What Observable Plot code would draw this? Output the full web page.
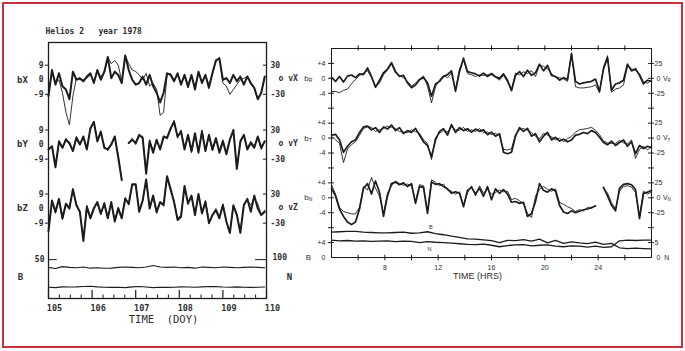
<!DOCTYPE html>
<html><head><meta charset="utf-8">
<script src="https://cdn.jsdelivr.net/npm/d3@7"></script>
<script src="https://cdn.jsdelivr.net/npm/@observablehq/plot@0.6"></script>
<style>
html,body{margin:0;padding:0;background:#fff;}
#wrap{position:relative;width:685px;height:351px;overflow:hidden;background:#fff;}
#wrap svg{position:absolute;overflow:visible !important;background:transparent;}
#border{position:absolute;left:2px;top:2px;width:681px;height:346px;box-sizing:border-box;border:2px solid #c8323e;}
</style></head><body><div id="wrap"><div id="border"></div></div>
<script>
// ================= LEFT PANEL DATA (Helios 2, 1978, DOY) =================
const doyStart = 105, doyStep = 0.08;           // sample grid of the b/v traces
const bX = [-10,6,-3,4,-4,-6,-12,5,0,1,-1,2,4,-2,6,0,5,14,1,5,3,-2,15,6,0,-3,-2,2,-3,3,-4,-8,-14,-8,4,3,-1,4,-3,3,-4,3,-6,5,-2,3,-5,4,12,13,0,1,-2,3,-1,2,-3,2,-2,-5,-12,-8,2];
const vX = [-27,17,-7,0,-27,-67,-93,-33,3,0,0,3,10,-3,17,7,13,47,33,40,30,-3,50,33,20,17,10,0,13,-13,-7,-20,-73,-67,10,13,0,10,-7,7,-17,7,-13,13,-3,7,-10,13,37,47,-7,-13,-30,-20,-10,0,3,7,-10,-17,-40,-27,7];
const bY = [-3,-1,-14,2,-2,3,1,-4,4,0,5,-3,10,14,2,8,-2,-3,0,5,-8,-22,null,1,3,1,6,4,-18,2,-5,3,-3,5,4,10,14,5,8,-3,6,-4,7,-5,8,-4,6,-3,4,-5,2,-6,3,9,-15,2,6,-3,1,-2,5,-2,2];
const vY = [-10,-3,-40,3,-7,13,0,-13,17,3,13,-10,30,47,10,23,-3,-13,3,13,-23,-70,null,3,13,0,17,17,-57,10,-13,7,-10,13,17,30,50,13,30,-7,17,-17,20,-13,30,-10,17,-13,10,-13,10,-17,13,27,-47,3,20,-7,7,-3,13,-10,7];
const bZ = [-14,5,-2,6,-6,3,0,12,2,-2,-20,1,-6,0,4,-3,3,-6,4,-8,0,-6,6,3,15,15,-2,5,18,0,8,-2,4,2,20,12,4,-7,-5,14,3,8,-4,9,-3,4,-9,-4,-1,-6,2,-8,-15,2,-4,-15,2,6,-2,8,0,-4,-2];
const vZ = [-40,13,-10,17,-23,10,3,37,10,-10,-60,7,-17,3,10,-13,13,-17,10,-23,3,-17,23,7,50,47,-3,17,57,3,23,-10,13,10,63,37,17,-20,-13,43,13,23,-10,27,-7,17,-27,-13,0,-17,10,-27,-47,7,-10,-47,10,17,7,20,10,-13,-3];
const bnStepL = 0.16;
const B_left = [40,38.5,41,40,39.5,40.5,39,39.5,38.8,39,40,40.5,40,39.5,40.5,42.5,40.5,40,40.5,39.5,40,39,40.5,40,39.5,40.5,40,39.5,40,40.5,40,39.5];
const N_left = [29,28,30,29.5,30,31,31.5,30,29,28.5,29,28,30,31,29.5,28,29,28.5,29,30,29.5,29,30,31,30.5,29.5,29,30,29,28.5,29,29.5];
const doyTicks = [105,106,107,108,109,110];
const leftBTicks = [9,0,-9], leftBTickText = ["9","0","-9"];
const leftVTicks = [30,-30], leftVTickText = ["30","-30"];

// ================= RIGHT PANEL DATA (TIME, HRS) =================
const hrStart = 4, hrStep = 0.3;
const bR = [0.3,-0.8,0.5,-1.0,0.6,0.9,0.2,1.2,1.0,2.8,0.5,-2.4,-0.5,1.5,2.5,4.2,1.8,0.5,0.8,-1.2,-2.5,-1.8,-0.4,0.2,-1.2,-4.8,-1.5,-0.8,0.5,1.0,2.0,-3.5,1.8,5.4,1.8,1.5,1.2,0.6,1.4,0.5,1.3,0.4,0.0,1.2,-0.5,-3.3,0.8,1.8,0.5,2.2,0.8,1.5,3.8,2.0,3.5,0.8,0.5,-0.5,0.2,-0.3,6.5,-0.8,-1.5,-1.2,-1.0,-0.8,-0.2,-3.5,2.5,5.5,-3.2,-1.5,-1.2,-0.5,3.8,2.0,2.6,0.8,-1.5,-0.5,-0.8];
const vR = [-22,-22,-24,-20,-18,-9,-2,5,9,13,1,-13,-8,6,14,24,9,5,1,-5,-13,-8,-1,4,-13,-41,-14,-3,5,1,9,-19,16,31,8,6,3,6,5,6,6,2,-3,5,-6,-18,9,6,11,8,13,3,22,20,16,8,2,1,-1,-5,43,-14,-16,-16,-15,-14,-11,-24,19,38,-23,-18,-16,-11,21,16,13,8,-6,-8,-3];
const bT = [0.8,1.0,-0.5,-3.8,-2.2,-1.0,-0.5,1.5,3.0,3.2,2.2,2.8,1.5,3.0,2.4,3.5,2.0,2.8,1.2,2.0,1.5,2.6,0.8,-1.0,-2.0,-5.0,-0.5,1.8,2.5,0.8,3.6,1.5,2.8,2.0,2.5,1.6,2.4,1.8,2.2,0.9,1.6,0.5,1.2,-3.8,-4.2,-3.8,0.5,2.8,1.8,2.6,0.5,1.2,-1.0,0.5,1.5,-0.5,0.2,-0.8,-0.3,-1.0,-0.5,0.8,1.0,1.5,1.2,2.0,1.5,0.2,-1.2,-1.8,-0.8,-2.0,-1.2,-0.5,-2.2,-1.0,-4.2,-2.0,-2.8,-2.2,-2.6];
const vT = [3,-3,-9,-41,-18,-11,-6,5,16,19,18,11,14,16,20,18,16,11,10,9,14,11,8,-3,-9,-36,1,8,13,10,19,14,13,18,11,14,11,16,9,10,6,8,4,-19,-20,-18,6,14,16,13,9,3,-1,8,5,2,-3,0,-6,-1,3,10,14,15,16,18,13,6,-5,-8,-9,-9,-4,-8,-10,-3,-34,-19,-14,-20,-13];
const bN = [2.5,0.5,-3.0,-5.0,-6.5,-7.2,-6.5,-3.0,2.5,3.8,1.0,4.5,1.5,-5.0,0.5,3.8,4.2,3.5,4.0,3.0,3.8,-1.5,3.0,2.8,-4.2,4.2,3.6,3.8,3.0,2.4,1.2,1.6,1.2,-2.4,2.0,2.8,1.0,2.6,0.4,3.0,-0.5,2.4,1.2,2.2,1.0,-1.2,-1.0,-1.5,-1.2,-5.0,-4.2,-1.0,3.8,2.0,1.5,2.4,1.8,-2.0,-3.8,-4.2,-3.5,-4.0,-3.6,-3.2,-3.0,-2.6,-2.2,null,2.8,0.5,-2.0,-3.5,2.5,3.6,3.8,3.5,2.2,-5.6,1.2,1.5,2.0];
const vN = [22,6,-16,-23,-25,-27,-27,-16,19,13,34,16,3,-26,8,20,28,24,21,23,20,-6,22,20,-23,30,26,20,23,13,11,6,10,-13,8,20,3,20,8,14,6,9,13,10,11,-3,-1,-5,-10,-26,-33,3,14,19,14,11,15,-8,-11,-15,-18,-23,-20,-22,-16,-18,-13,null,16,8,-8,-19,11,19,20,18,9,-30,11,6,10];
const bnStepR = 0.6;
const B_right = [6.8,6.9,7.0,7.0,6.8,6.7,6.6,6.6,6.7,6.8,6.5,6.6,6.9,6.4,6.1,5.7,5.4,5.0,4.9,4.7,4.5,4.0,4.6,4.5,4.8,4.4,4.9,3.9,4.6,3.8,4.2,3.9,3.7,4.1,3.5,3.8,2.6,2.4,2.5,2.4,2.3];
const N_right = [5.8,5.6,5.7,5.5,5.6,5.4,5.5,5.6,5.3,5.5,5.4,5.0,5.3,5.1,5.0,4.8,4.6,4.4,4.3,4.5,4.1,3.6,4.0,4.2,4.3,3.9,4.1,4.2,3.8,3.6,3.9,3.8,3.5,3.8,3.4,3.6,5.6,5.8,5.7,5.8,5.8];
const hrLabelTicks = [8,12,16,20,24];
const rightBTicks = [4,0,-4], rightBTickText = ["+4","0","-4"];
const rightVTicks = [25,-25], rightVTickText = ["25","-25"];

// ================= helpers =================
const ink = "#1c1c1c", txt = "#2e2e2e";
const mono = "'DejaVu Sans Mono','Liberation Mono',monospace";
const sans = "'Liberation Sans',Arial,sans-serif";
const series = (vals, t0, dt, off, k) => vals.map((v, i) => ({t: t0 + dt * i, y: v == null ? NaN : off + v * k}));
const wrap = document.getElementById("wrap");
function place(svg, left, top) { svg.style.left = left + "px"; svg.style.top = top + "px"; wrap.appendChild(svg); }

// ================= LEFT PLOT =================
{
  const kV = 9 / 30, kB = 24 / 50, kN = 24 / 100;
  const panels = [
    {name: "bX", b: bX, v: vX, off: 135, vlab: "o vX"},
    {name: "bY", b: bY, v: vY, off: 95, vlab: "o vY"},
    {name: "bZ", b: bZ, v: vZ, off: 55.5, vlab: "o vZ"}
  ];
  const x0 = doyTicks[0], x1 = doyTicks[doyTicks.length - 1];
  const lTicks = panels.flatMap(p => leftBTicks.map((v, j) => ({y: p.off + v, text: leftBTickText[j]})));
  const rTicks = panels.flatMap(p => leftVTicks.map((v, j) => ({y: p.off + v * kV, text: leftVTickText[j]})));
  const names = panels.map(p => ({y: p.off, text: p.name}));
  const vnames = panels.map(p => ({y: p.off, text: p.vlab}));
  const minor = d3.range(x0, x1, 0.25).filter(d => d % 1 !== 0);
  const svg = Plot.plot({
    width: 300, height: 340,
    marginLeft: 48, marginRight: 34, marginTop: 42, marginBottom: 42,
    x: {domain: [x0, x1], axis: null},
    y: {domain: [0, 158], axis: null},
    marks: [
      Plot.frame({stroke: ink, strokeWidth: 1.3}),
      ...panels.flatMap(p => [
        Plot.line(series(p.v, doyStart, doyStep, p.off, kV), {x: "t", y: "y", stroke: ink, strokeWidth: 0.9}),
        Plot.line(series(p.b, doyStart, doyStep, p.off, 1), {x: "t", y: "y", stroke: ink, strokeWidth: 2})
      ]),
      Plot.line(series(B_left, doyStart, bnStepL, 0, kB), {x: "t", y: "y", stroke: ink, strokeWidth: 1.1}),
      Plot.line(series(N_left, doyStart, bnStepL, 0, kN), {x: "t", y: "y", stroke: ink, strokeWidth: 1.1}),
      // axis ticks
      Plot.ruleX(doyTicks, {x: d => d, y1: 0, y2: 5, stroke: ink, strokeWidth: 1.2}),
      Plot.ruleX(minor, {x: d => d, y1: 0, y2: 2.2, stroke: ink, strokeWidth: 1}),
      Plot.ruleY(lTicks.filter(d => d.text !== "0"), {y: "y", x1: x0 - 0.07, x2: x0, stroke: ink}),
      Plot.ruleY(rTicks, {y: "y", x1: x1 - 0.07, x2: x1, stroke: ink}),
      Plot.ruleY([50 * kB], {y: d => d, x1: x0, x2: x0 + 0.2, stroke: ink}),
      Plot.ruleY([100 * kN], {y: d => d, x1: x1 - 0.25, x2: x1, stroke: ink}),
      // labels
      Plot.text(lTicks, {x: () => x0, y: "y", text: "text", textAnchor: "end", dx: -5, fontSize: 8, fontFamily: mono, fontWeight: "bold", fill: txt}),
      Plot.text(names, {x: () => x0, y: "y", text: "text", textAnchor: "middle", dx: -26, fontSize: 9, fontFamily: mono, fontWeight: "bold", fill: txt}),
      Plot.text(rTicks, {x: () => x1, y: "y", text: "text", textAnchor: "start", dx: 4, fontSize: 8, fontFamily: mono, fontWeight: "bold", fill: txt}),
      Plot.text(vnames, {x: () => x1, y: "y", text: "text", textAnchor: "start", dx: 12, dy: -1, fontSize: 8, fontFamily: mono, fontWeight: "bold", fill: txt}),
      Plot.text(["50"], {x: () => x0, y: () => 50 * kB, textAnchor: "end", dx: -4, fontSize: 8, fontFamily: mono, fontWeight: "bold", fill: txt}),
      Plot.text(["100"], {x: () => x1, y: () => 100 * kN, textAnchor: "start", dx: 6, dy: -2, fontSize: 8, fontFamily: mono, fontWeight: "bold", fill: txt}),
      Plot.text(["B"], {x: () => x0, y: () => 13, textAnchor: "middle", dx: -28, fontSize: 9, fontFamily: mono, fontWeight: "bold", fill: txt}),
      Plot.text(["N"], {x: () => x1, y: () => 13, textAnchor: "middle", dx: 23, fontSize: 9, fontFamily: mono, fontWeight: "bold", fill: txt}),
      Plot.text(doyTicks, {x: d => d, y: () => 0, text: d => String(d), dy: 10, dx: 6, fontSize: 8.5, fontFamily: mono, fontWeight: "bold", fill: txt}),
      Plot.text(["TIME\u00a0\u00a0(DOY)"], {frameAnchor: "bottom", dx: 6, dy: 24, fontSize: 10.5, fontFamily: mono, fill: txt}),
      Plot.text(["Helios 2\u00a0\u00a0\u00a0year 1978"], {frameAnchor: "top-left", textAnchor: "start", dx: -3, dy: -14, fontSize: 8, fontFamily: mono, fontWeight: "bold", fill: txt})
    ]
  });
  place(svg, 0, 0);
}

// ================= RIGHT PLOT =================
{
  const kV = 4 / 25, kN = 4 / 5;
  const panels = [
    {sub: "R", b: bR, v: vR, off: 48},
    {sub: "T", b: bT, v: vT, off: 32},
    {sub: "N", b: bN, v: vN, off: 16}
  ];
  const x0 = 4, x1 = 28, top = 56;
  const lTicks = panels.flatMap(p => rightBTicks.map((v, j) => ({y: p.off + v, text: rightBTickText[j]})))
    .concat([{y: 4, text: "+4"}, {y: 0, text: "0"}]);
  const rTicks = panels.flatMap(p => rightVTicks.map((v, j) => ({y: p.off + v * kV, text: rightVTickText[j]})))
    .concat([{y: 5 * kN, text: "5"}]);
  const zeroR = panels.map(p => ({y: p.off, sub: p.sub}));
  const yTicks = d3.range(4, top, 4);
  const xTicks = d3.range(6, x1, 2);
  const svg = Plot.plot({
    width: 395, height: 300,
    marginLeft: 41, marginRight: 34, marginTop: 48, marginBottom: 43,
    x: {domain: [x0, x1], axis: null},
    y: {domain: [0, top], axis: null},
    marks: [
      Plot.frame({stroke: ink, strokeWidth: 1}),
      ...panels.flatMap(p => [
        Plot.line(series(p.v, hrStart, hrStep, p.off, kV), {x: "t", y: "y", stroke: ink, strokeWidth: 0.9}),
        Plot.line(series(p.b, hrStart, hrStep, p.off, 1), {x: "t", y: "y", stroke: ink, strokeWidth: 1.7})
      ]),
      Plot.line(series(B_right, hrStart, bnStepR, 0, 1), {x: "t", y: "y", stroke: ink, strokeWidth: 1.3}),
      Plot.line(series(N_right, hrStart, bnStepR, 0, kN), {x: "t", y: "y", stroke: ink, strokeWidth: 1.3}),
      // ticks
      Plot.ruleY(yTicks, {y: d => d, x1: x0 - 0.22, x2: x0 + 0.22, stroke: ink}),
      Plot.ruleY(yTicks, {y: d => d, x1: x1 - 0.22, x2: x1 + 0.22, stroke: ink}),
      Plot.ruleX(xTicks, {x: d => d, y1: top - 0.65, y2: top + 0.7, stroke: ink}),
      Plot.ruleX(xTicks, {x: d => d, y1: -0.9, y2: 0.6, stroke: ink}),
      // left labels
      Plot.text(lTicks, {x: () => x0, y: "y", text: "text", textAnchor: "end", dx: -6, fontSize: 7, fontFamily: sans, fill: txt}),
      Plot.text(zeroR, {x: () => x0, y: "y", text: () => "b", textAnchor: "middle", dx: -25, fontSize: 8, fontFamily: sans, fill: txt}),
      Plot.text(zeroR, {x: () => x0, y: "y", text: "sub", textAnchor: "middle", dx: -21, dy: 2, fontSize: 5, fontFamily: sans, fill: txt}),
      Plot.text(["B"], {x: () => x0, y: () => 0, textAnchor: "middle", dx: -23, fontSize: 8, fontFamily: sans, fill: txt}),
      // right labels
      Plot.text(rTicks, {x: () => x1, y: "y", text: "text", textAnchor: "start", dx: 3, fontSize: 7, fontFamily: sans, fill: txt}),
      Plot.text(zeroR, {x: () => x1, y: "y", text: () => "0", textAnchor: "start", dx: 5, fontSize: 7, fontFamily: sans, fill: txt}),
      Plot.text(zeroR, {x: () => x1, y: "y", text: () => "V", textAnchor: "start", dx: 11.5, fontSize: 7, fontFamily: sans, fill: txt}),
      Plot.text(zeroR, {x: () => x1, y: "y", text: "sub", textAnchor: "start", dx: 16, dy: 2, fontSize: 4.5, fontFamily: sans, fill: txt}),
      Plot.text(["0\u00a0\u00a0N"], {x: () => x1, y: () => 0, textAnchor: "start", dx: 5, fontSize: 7, fontFamily: sans, fill: txt}),
      // curve annotations
      Plot.text([{t: 11.45, y: 8.1, s: "B"}, {t: 11.35, y: 2.1, s: "N"}], {x: "t", y: "y", text: "s", fontSize: 5.5, fontFamily: sans, fill: txt}),
      // bottom axis labels
      Plot.text(hrLabelTicks, {x: d => d, y: () => 0, text: d => String(d), dy: 10, fontSize: 7, fontFamily: sans, fill: txt}),
      Plot.text(["TIME (HRS)"], {frameAnchor: "bottom", dx: -14, dy: 21, fontSize: 9, fontFamily: sans, fill: txt})
    ]
  });
  place(svg, 290, 0);
}
</script>
</body></html>
